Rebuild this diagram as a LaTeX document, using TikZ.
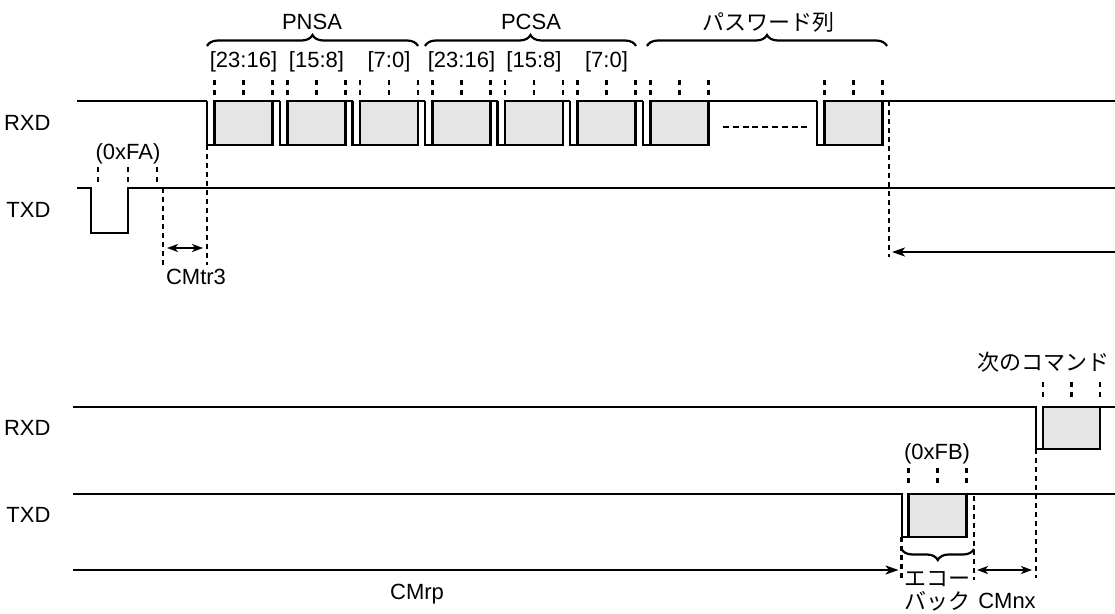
\documentclass[tikz,border=0pt]{standalone}
\usepackage{fontspec}
\setmainfont{Liberation Sans}
\newfontfamily\jpfont{Noto Sans CJK JP}
\usetikzlibrary{arrows.meta, decorations.pathreplacing}

\begin{document}
\begin{tikzpicture}[
    x=1pt, y=-1pt,
    node font=\fontsize{22}{23}\selectfont,
    sig/.style={line width=2.6pt, line join=miter},
    byte/.style={sig, fill=black!10},
    tick/.style={line width=2.4pt, dash pattern=on 5pt off 5pt},
    guide/.style={line width=2.2pt, dash pattern=on 5pt off 4pt},
    timing/.style={line width=2.2pt, -{Stealth[length=13pt, width=9pt, inset=3.5pt]}},
    span/.style={line width=1.8pt, {Stealth[length=11pt, width=8pt, inset=3pt]}-{Stealth[length=11pt, width=8pt, inset=3pt]}},
    grp/.style={line width=2.2pt, decorate, decoration={brace, amplitude=11pt}}
]
  \useasboundingbox (0,0) rectangle (1115,613);

  % --- SIGNAL NAMES ---
  \node[anchor=east] (rxd1) at (58,123) {RXD};
  \node[anchor=east] (txd1) at (58,210) {TXD};
  \node[anchor=east] (rxd2) at (58,428) {RXD};
  \node[anchor=east] (txd2) at (58,515) {TXD};

  % --- UPPER RXD (PNSA, PCSA, password) ---
  \draw[sig] (77,101) -- (207,101);
  \foreach \f/\n in {207/280, 280/352.5, 352.5/425, 425/497.5, 497.5/570, 570/643, 643/817, 817/1115} {
    \draw[sig] (\f,101) -- (\f,145) -- (\f+7.5,145);
    \draw[byte] (\f+7.5,101) rectangle (\f+65.5,145);
    \draw[sig] (\f+65.5,101) -- (\n,101);
    \foreach \t in {7.5,36.5,65.5}
      \draw[tick] (\f+\t,80) -- (\f+\t,96);
  }
  \draw[line width=2.2pt, dash pattern=on 6pt off 3.8pt] (723,127) -- (811,127);

  \foreach \f/\lbl [count=\i] in {207/{[23:16]}, 280/{[15:8]}, 352.5/{[7:0]}, 425/{[23:16]}, 497.5/{[15:8]}, 570/{[7:0]}}
    \node (bits\i) at (\f+36.5,62) {\lbl};

  \draw[grp] (207,46) -- (418,46);
  \draw[grp] (425,46) -- (636,46);
  \draw[grp] (647,46) -- (887,46);
  \node (pnsa) at (312,22) {PNSA};
  \node (pcsa) at (531,22) {PCSA};
  \node (pwd) at (768,22) {\jpfont パスワード列};

  % --- UPPER TXD (0xFA) ---
  \draw[sig] (77,188) -- (91,188) -- (91,233) -- (128,233) -- (128,188) -- (1115,188);
  \foreach \t in {98,128,157}
    \draw[tick] (\t,167) -- (\t,183);
  \node (fa) at (128,154) {(0xFA)};

  % CMtr3
  \draw[guide] (163,188) -- (163,265);
  \draw[guide] (207,145) -- (207,265);
  \coordinate (tr3a) at (163,248);
  \coordinate (tr3b) at (207,248);
  \draw[span, shorten <=4pt, shorten >=4pt] (tr3a) -- (tr3b);
  \node (cmtr3) at (196,277) {CMtr3};

  % end of RXD frame
  \draw[guide] (889,101) -- (889,257);
  \coordinate (rpend) at (889,252);
  \coordinate (rpstart) at (1115,252);
  \draw[timing, shorten >=3pt] (rpstart) -- (rpend);

  % --- LOWER RXD (next command) ---
  \draw[sig] (73,407) -- (1036,407) -- (1036,449) -- (1043,449);
  \draw[byte] (1043,407) rectangle (1100,449);
  \draw[sig] (1100,407) -- (1115,407);
  \foreach \t in {1043,1071.5,1100}
    \draw[tick] (\t,382) -- (\t,397);
  \node (next) at (1043,362) {\jpfont 次のコマンド};

  % --- LOWER TXD (0xFB echo back) ---
  \draw[sig] (73,494) -- (902,494) -- (902,537) -- (908.5,537);
  \draw[byte] (908.5,494) rectangle (966.5,537);
  \draw[sig] (966.5,494) -- (1115,494);
  \foreach \t in {908.5,937.5,966.5}
    \draw[tick] (\t,468) -- (\t,483);
  \node (fb) at (937,454) {(0xFB)};

  \draw[guide] (901.5,537) -- (901.5,580);
  \draw[guide] (974,496) -- (974,580);
  \draw[guide] (1036,449) -- (1036,578);
  \draw[grp] (974,549) -- (901.5,549);

  % CMrp / CMnx
  \coordinate (rp0) at (73,570);
  \coordinate (rp1) at (901.5,570);
  \draw[timing, shorten >=3pt] (rp0) -- (rp1);
  \node (cmrp) at (417,594) {CMrp};
  \coordinate (nx0) at (974,570);
  \coordinate (nx1) at (1036,570);
  \draw[span, shorten <=3pt, shorten >=4pt] (nx0) -- (nx1);
  \node (cmnx) at (1007,601) {CMnx};
  \node[align=center, font=\jpfont] (echo) at (937,591) {エコー\\バック};

\end{tikzpicture}
\end{document}
